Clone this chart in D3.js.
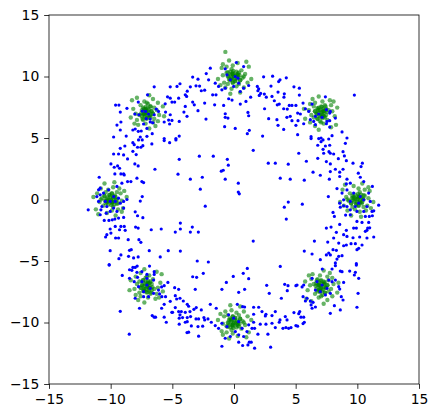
<!DOCTYPE html>
<html><head><meta charset="utf-8">
<script src="https://cdn.jsdelivr.net/npm/d3@7"></script>
<style>body{margin:0;background:#fff}svg{display:block}</style>
</head><body><svg id="c" width="437" height="418"></svg>
<script>
const xTicks = [-15,-10,-5,0,5,10,15];
const yTicks = [-15,-10,-5,0,5,10,15];

const greenE = [[10.1,0.2],[9.7,0.1],[10.4,-0.2],[9.9,-0.4],[10.6,0.3],[9.5,-0.3],[10.2,0.6],[9.4,0.5],[10.8,-0.5],[9.8,-0.8],[10.0,0.0],[10.3,0.4],[9.6,0.3],[10.5,-0.6],[9.3,-0.1],[10.9,0.1],[9.1,0.2],[10.1,0.9],[10.2,-1.0],[8.9,-0.5],[11.0,0.7],[9.7,1.1],[10.7,-0.9],[9.2,-0.9],[11.3,-0.2],[8.8,0.8],[10.4,1.3],[9.5,-1.3],[10.2,-0.2],[9.8,0.4],[10.5,0.0],[9.6,-0.6],[10.6,0.8],[9.2,0.0],[10.1,-0.5],[11.1,-0.7],[9.0,1.2],[10.3,-1.4],[8.6,-0.2],[10.9,1.0],
[10.05,0.1],[9.85,0.05],[10.2,-0.1],[9.95,-0.2],[10.3,0.15],[9.75,-0.15],[10.1,0.3],[9.7,0.25],[10.35,-0.3],[9.9,-0.35],[10.15,0.2],[9.8,0.15],[10.25,-0.25],[9.65,-0.05],[10.45,0.05],[9.55,0.1],[10.05,0.45],[10.1,-0.5],[9.5,-0.3],[10.5,0.35]];
const greenNE = [[7.27,7.17],[7.17,6.77],[6.87,7.47],[6.67,6.97],[7.37,7.67],[6.77,6.57],[7.67,7.27],[7.57,6.47],[6.57,7.87],[6.27,6.87],[7.07,7.07],[7.47,7.37],[7.37,6.67],[6.47,7.57],[6.97,6.37],[7.17,7.97],[7.27,6.17],[7.97,7.17],[6.07,7.27],[6.57,5.97],[7.77,8.07],[8.17,6.77],[6.17,7.77],[6.17,6.27],[6.87,8.37],[7.87,5.87],[8.37,7.47],[5.77,6.57],[6.87,7.27],[7.47,6.87],[7.07,7.57],[6.47,6.67],[7.87,7.67],[7.07,6.27],[6.57,7.17],[6.37,8.17],[8.27,6.07],[5.67,7.37],[6.87,5.67],[8.07,7.97],
[7.17,7.12],[7.12,6.92],[6.97,7.27],[6.87,7.02],[7.22,7.37],[6.92,6.82],[7.37,7.17],[7.32,6.77],[6.77,7.42],[6.72,6.97],[7.27,7.22],[7.22,6.87],[6.82,7.32],[7.02,6.72],[7.12,7.52],[7.17,6.62],[7.52,7.12],[6.57,7.17],[6.77,6.57],[7.42,7.57]];
const greenN = [[-0.1,10.2],[0.3,10.1],[-0.4,9.8],[0.1,9.6],[-0.6,10.3],[0.5,9.7],[-0.2,10.6],[0.6,10.5],[-0.8,9.5],[0.2,9.2],[0,10],[-0.3,10.4],[0.4,10.3],[-0.5,9.4],[0.7,9.9],[-0.9,10.1],[0.9,10.2],[-0.1,10.9],[-0.2,9.0],[1.1,9.5],[-1.0,10.7],[0.3,11.1],[-0.7,9.1],[0.8,9.1],[-1.3,9.8],[1.2,10.8],[-0.4,11.3],[0.5,8.7],[-0.2,9.8],[0.2,10.4],[-0.5,10.0],[0.4,9.4],[-0.6,10.8],[0.8,10.0],[-0.1,9.5],[-1.1,9.3],[1.0,11.2],[-0.3,8.6],[1.4,9.8],[-0.9,11.0],[-0.7,12.0],
[-0.05,10.1],[0.15,10.05],[-0.2,9.9],[0.05,9.8],[-0.3,10.15],[0.25,9.85],[-0.1,10.3],[0.3,10.25],[-0.35,9.7],[0.1,9.65],[-0.15,10.2],[0.2,10.15],[-0.25,9.75],[0.35,9.95],[-0.45,10.05],[0.45,10.1],[-0.05,10.45],[-0.1,9.5],[0.5,9.7],[-0.5,10.35]];
const greenNW = [[-7.27,6.97],[-7.17,7.37],[-6.87,6.67],[-6.67,7.17],[-7.37,6.47],[-6.77,7.57],[-7.67,6.87],[-7.57,7.67],[-6.57,6.27],[-6.27,7.27],[-7.07,7.07],[-7.47,6.77],[-7.37,7.47],[-6.47,6.57],[-6.97,7.77],[-7.17,6.17],[-7.27,7.97],[-7.97,6.97],[-6.07,6.87],[-6.57,8.17],[-7.77,6.07],[-8.17,7.37],[-6.17,6.37],[-6.17,7.87],[-6.87,5.77],[-7.87,8.27],[-8.37,6.67],[-5.77,7.57],[-6.87,6.87],[-7.47,7.27],[-7.07,6.57],[-6.47,7.47],[-7.87,6.47],[-7.07,7.87],[-6.57,6.97],[-6.37,5.97],[-8.27,8.07],[-5.67,6.77],[-6.87,8.47],[-8.07,6.17],
[-7.17,7.02],[-7.12,7.22],[-6.97,6.87],[-6.87,7.12],[-7.22,6.77],[-6.92,7.32],[-7.37,6.97],[-7.32,7.37],[-6.77,6.72],[-6.72,7.17],[-7.27,6.92],[-7.22,7.27],[-6.82,6.82],[-7.02,7.42],[-7.12,6.62],[-7.17,7.52],[-7.52,7.02],[-6.57,6.97],[-6.77,7.57],[-7.42,6.57]];
const greenW = [[-9.9,-0.2],[-10.3,-0.1],[-9.6,0.2],[-10.1,0.4],[-9.4,-0.3],[-10.5,0.3],[-9.8,-0.6],[-10.6,-0.5],[-9.2,0.5],[-10.2,0.8],[-10,0],[-9.7,-0.4],[-10.4,-0.3],[-9.5,0.6],[-10.7,0.1],[-9.1,-0.1],[-10.9,-0.2],[-9.9,-0.9],[-9.8,1.0],[-11.1,0.5],[-9.0,-0.7],[-10.3,-1.1],[-9.3,0.9],[-10.8,0.9],[-8.7,0.2],[-11.2,-0.8],[-9.6,-1.3],[-10.5,1.3],[-9.8,0.2],[-10.2,-0.4],[-9.5,0],[-10.4,0.6],[-9.4,-0.8],[-10.8,0],[-9.9,0.5],[-8.9,0.7],[-11.0,-1.2],[-9.7,1.4],[-11.4,0.2],[-9.1,-1.0],
[-9.95,-0.1],[-10.15,-0.05],[-9.8,0.1],[-10.05,0.2],[-9.7,-0.15],[-10.25,0.15],[-9.9,-0.3],[-10.3,-0.25],[-9.65,0.3],[-10.1,0.35],[-9.85,-0.2],[-10.2,-0.15],[-9.75,0.25],[-10.35,0.05],[-9.55,-0.05],[-10.45,-0.1],[-9.95,-0.45],[-9.9,0.5],[-10.5,0.3],[-9.5,-0.35]];
const greenSW = [[-6.87,-7.17],[-6.97,-6.77],[-7.27,-7.47],[-7.47,-6.97],[-6.77,-7.67],[-7.37,-6.57],[-6.47,-7.27],[-6.57,-6.47],[-7.57,-7.87],[-7.87,-6.87],[-7.07,-7.07],[-6.67,-7.37],[-6.77,-6.67],[-7.67,-7.57],[-7.17,-6.37],[-6.97,-7.97],[-6.87,-6.17],[-6.17,-7.17],[-8.07,-7.27],[-7.57,-5.97],[-6.37,-8.07],[-5.97,-6.77],[-7.97,-7.77],[-7.97,-6.27],[-7.27,-8.37],[-6.27,-5.87],[-5.77,-7.47],[-8.37,-6.57],[-7.27,-7.27],[-6.67,-6.87],[-7.07,-7.57],[-7.67,-6.67],[-6.27,-7.67],[-7.07,-6.27],[-7.57,-7.17],[-7.77,-8.17],[-5.87,-6.07],[-8.47,-7.37],[-7.27,-5.67],[-6.07,-7.97],
[-6.97,-7.12],[-7.02,-6.92],[-7.17,-7.27],[-7.27,-7.02],[-6.92,-7.37],[-7.22,-6.82],[-6.77,-7.17],[-6.82,-6.77],[-7.37,-7.42],[-7.42,-6.97],[-6.87,-7.22],[-6.92,-6.87],[-7.32,-7.32],[-7.12,-6.72],[-7.02,-7.52],[-6.97,-6.62],[-6.62,-7.12],[-7.57,-7.17],[-7.37,-6.57],[-6.72,-7.57]];
const greenS = [[-0.1,-10.2],[0.3,-10.1],[-0.4,-9.8],[0.1,-9.6],[-0.6,-10.3],[0.5,-9.7],[-0.2,-10.6],[0.6,-10.5],[-0.8,-9.5],[0.2,-9.2],[0,-10],[-0.3,-10.4],[0.4,-10.3],[-0.5,-9.4],[0.7,-9.9],[-0.9,-10.1],[0.9,-10.2],[-0.1,-10.9],[-0.2,-9.0],[1.1,-9.5],[-1.0,-10.7],[0.3,-11.1],[-0.7,-9.1],[0.8,-9.1],[-1.3,-9.8],[1.2,-10.8],[-0.4,-11.3],[0.5,-8.7],[-0.2,-9.8],[0.2,-10.4],[-0.5,-10],[0.4,-9.4],[-0.6,-10.8],[0.8,-10],[-0.1,-9.5],[-1.1,-9.3],[1.0,-11.2],[-0.3,-8.6],[1.4,-9.8],[-0.9,-11.0],
[-0.05,-10.1],[0.15,-10.05],[-0.2,-9.9],[0.05,-9.8],[-0.3,-10.15],[0.25,-9.85],[-0.1,-10.3],[0.3,-10.25],[-0.35,-9.7],[0.1,-9.65],[-0.15,-10.2],[0.2,-10.15],[-0.25,-9.75],[0.35,-9.95],[-0.45,-10.05],[0.45,-10.1],[-0.05,-10.45],[-0.1,-9.5],[0.5,-9.7],[-0.5,-10.35]];
const greenSE = [[6.87,-6.97],[6.97,-7.37],[7.27,-6.67],[7.47,-7.17],[6.77,-6.47],[7.37,-7.57],[6.47,-6.87],[6.57,-7.67],[7.57,-6.27],[7.87,-7.27],[7.07,-7.07],[6.67,-6.77],[6.77,-7.47],[7.67,-6.57],[7.17,-7.77],[6.97,-6.17],[6.87,-7.97],[6.17,-6.97],[8.07,-6.87],[7.57,-8.17],[6.37,-6.07],[5.97,-7.37],[7.97,-6.37],[7.97,-7.87],[7.27,-5.77],[6.27,-8.27],[5.77,-6.67],[8.37,-7.57],[7.27,-6.87],[6.67,-7.27],[7.07,-6.57],[7.67,-7.47],[6.27,-6.47],[7.07,-7.87],[7.57,-6.97],[7.77,-5.97],[5.87,-8.07],[8.47,-6.77],[7.27,-8.47],[6.07,-6.17],
[6.97,-7.02],[7.02,-7.22],[7.17,-6.87],[7.27,-7.12],[6.92,-6.77],[7.22,-7.32],[6.77,-6.97],[6.82,-7.37],[7.37,-6.72],[7.42,-7.17],[6.87,-6.92],[6.92,-7.27],[7.32,-6.82],[7.12,-7.42],[7.02,-6.62],[6.97,-7.52],[6.62,-7.02],[7.57,-6.97],[7.37,-7.57],[6.72,-6.57]];

const bluePoints = [
[-6.47,9.16],[-5.17,9.16],[-9.60,7.68],[-9.33,7.68],[-8.68,7.41],[-9.22,7.11],[-5.58,7.78],[-5.39,8.35],[-5.17,8.24],[-5.55,7.11],[-5.17,6.89],[-5.30,6.46],[-5.66,6.30],[-5.22,6.14],[-9.49,6.05],[-9.17,6.30],[-9.22,5.65],[-8.74,5.16],[-8.20,5.65],[-8.01,5.73],[-7.76,5.54],[-7.52,5.57],[-7.06,5.78],[-6.63,5.35],[-7.60,5.08],[-7.06,5.14],[-9.76,5.08],[-5.66,4.95],[-7.76,7.92],[-7.01,8.51],
[-6.30,7.35],[-6.47,6.89],[-6.12,7.16],[-7.17,7.16],[-7.44,7.19],[-7.12,6.57],[-6.79,6.54],[-6.79,6.30],[-7.33,6.14],[-6.93,6.95],[-6.58,6.24],[-7.71,6.89],[-8.04,6.95],
[-1.92,10.68],[-2.25,10.24],[-3.35,9.95],[-2.92,9.78],[-2.06,9.73],[-4.62,9.19],[-4.38,9.41],[-3.08,9.24],[-2.79,9.22],[-3.54,9.16],[-2.38,8.89],[-2.65,8.84],[-3.79,8.81],[-1.73,8.51],[-1.46,8.51],[-3.95,8.51],[-3.84,8.38],[-4.49,8.24],[-5.03,7.92],[-4.81,7.92],[-3.35,7.92],[-3.22,7.70],[-2.38,7.84],[-1.57,7.70],[-0.84,7.65],[-3.95,7.57],[-2.92,7.22],[-4.06,7.11],[-3.81,6.76],[-4.44,6.35],[-5.03,6.43],[-2.27,6.54],[-0.71,6.97],[-0.71,6.68],[-0.49,6.62],[-0.76,5.92],[0.10,5.78],[1.13,7.08],[1.19,6.81],[1.24,5.62],[1.08,5.35],[2.32,5.16],[-4.44,5.16],[-4.71,4.95],[0.51,7.76],[0.97,7.97],[1.35,8.32],[-0.16,8.08],[-0.43,8.19],
[1.89,9.19],[2.0,9.0],[2.40,9.97],[3.13,10.03],[3.62,9.59],[3.73,9.73],[4.24,9.89],[4.86,9.16],[3.00,9.22],[1.94,8.84],[2.16,8.62],[2.05,8.46],[2.46,8.57],[2.62,8.32],[3.08,8.38],[3.57,8.73],[4.08,8.59],[4.05,8.32],[3.27,8.03],[3.67,7.76],[3.51,7.70],[4.48,7.65],[4.70,7.65],[5.02,7.65],[4.03,7.38],[4.32,7.35],[2.48,7.38],[2.81,6.57],[3.48,6.49],[4.29,6.68],[4.56,6.76],[4.70,6.41],[5.02,6.03],[4.03,5.70],[3.57,6.03],
[-0.71,10.62],[0.10,10.0],[0.19,11.14],[-0.57,10.14],[-0.30,9.73],[0.38,9.46],[-0.98,8.92],[-1.25,9.19],[-0.71,9.05],[-0.03,9.19],[0.51,8.78],[0.78,9.05],[1.19,9.27],[0.78,10.81],[0.32,9.86],[-1.52,9.46],
[5.30,9.05],[5.30,8.49],[9.76,8.49],[5.60,7.84],[5.79,7.38],[6.06,7.16],[5.16,7.03],[5.38,6.95],[6.33,7.76],[7.41,8.35],[5.19,6.41],[5.65,6.16],[6.19,6.49],[6.46,6.35],[6.60,6.08],[7.54,6.35],[7.76,6.41],[7.49,6.16],[7.76,5.89],[8.22,6.62],[8.76,5.49],[7.95,5.19],[9.16,5.0],[5.16,5.27],[6.25,5.11],[6.25,4.95],[6.87,4.95],[7.06,5.0],[7.68,4.92],
[6.87,6.95],[7.49,7.30],[7.81,7.16],[7.14,6.68],[6.60,6.76],[7.76,7.03],
[-9.22,4.16],[-8.85,4.35],[-9.36,3.70],[-9.76,3.70],[-8.95,3.62],[-8.63,3.30],[-8.20,4.62],[-8.09,4.46],[-7.82,4.25],[-7.55,4.25],[-7.39,4.38],[-8.20,3.92],[-7.93,3.65],[-7.74,4.84],[-7.44,4.84],[-6.66,4.52],[-5.66,4.79],[-5.22,4.62],[-9.98,2.89],[-9.71,2.62],[-9.44,2.73],[-9.28,2.54],[-9.17,2.08],[-8.95,2.08],[-9.66,2.08],[-8.90,2.00],[-8.04,2.89],[-7.77,2.73],[-6.41,2.46],[-7.87,1.73],[-7.47,1.46],[-7.33,1.38],[-10.93,1.81],[-8.36,1.46],[-8.63,1.46],[-10.85,0.92],[-10.98,0.79],[-7.44,0.24],[-7.60,-0.13],[-11.82,-0.84],[-10.85,-1.24],[-10.52,-1.70],[-10.14,-1.70],[-9.87,-1.65],[-9.66,-1.59],[-9.36,-1.51],[-8.95,-1.46],[-8.01,-1.00],[-7.82,-1.32],[-7.39,-1.48],[-9.63,-2.19],[-9.17,-2.19],[-8.90,-2.19],[-9.28,-2.46],[-8.82,-2.51],[-7.98,-2.24],[-7.77,-2.32],[-10.04,-2.40],[-9.98,-2.73],[-10.31,-2.86],[-10.41,-3.05],[-9.60,-3.13],[-9.36,-3.13],[-8.58,-3.27],[-7.71,-3.27],[-7.55,-3.48],[-6.71,-2.46],[-5.90,-2.40],[-6.87,-4.16],[-5.98,-4.67],[-5.33,-4.16],[-10.04,-4.16],[-9.33,-4.81],[-9.17,-4.51],[-8.55,-4.62],[-8.47,-4.13],[-8.33,-4.08],[-8.14,-4.75],[-7.77,-4.67],[-10.12,-5.30],
[-11.12,0.24],[-10.85,0.38],[-10.44,-0.16],[-10.04,-0.16],[-9.63,-0.16],[-9.76,0.24],[-9.36,0.11],[-9.22,-0.30],[-8.95,-0.16],[-8.68,0.0],[-10.31,-0.57],[-10.71,-0.57],[-9.76,-0.70],[-9.49,-0.97],[-8.95,-0.70],[-10.58,0.52],[-10.17,0.79],[-9.49,1.06],[-10.98,-0.16],[-9.09,1.33],[-10.04,-0.97],[-10.36,-1.11],[-10.79,-0.84],
[-4.71,4.84],[1.56,4.00],[-4.44,3.27],[-2.81,3.52],[-1.68,3.52],[-0.54,3.27],[-0.46,2.79],[-1.03,2.30],[-0.87,2.38],[2.78,2.95],[3.35,2.95],[4.40,2.87],[-4.54,2.06],[-3.54,1.65],[-2.57,1.81],[-0.71,1.65],[0.35,1.33],[3.75,1.73],[4.56,1.65],[-2.73,0.84],[0.35,0.60],[0.43,0.46],[4.40,-0.21],[4.08,-0.62],[-2.33,-0.54],[4.24,-1.59],[-4.35,-1.92],[-4.35,-2.40],[-4.76,-2.65],[-3.38,-2.24],[-3.54,-2.65],[-2.89,-2.65],[1.56,-3.38],[-4.35,-4.19],[-2.98,-5.0],[-2.08,-5.08],
[6.79,4.41],[7.06,4.70],[7.22,4.84],[7.41,4.35],[7.76,4.41],[9.03,4.57],[5.25,3.76],[7.22,4.08],[7.27,3.76],[7.70,3.89],[7.81,3.76],[8.08,3.70],[8.84,3.89],[8.95,3.54],[6.79,3.35],[7.49,3.08],[7.81,2.89],[8.46,3.32],[9.11,3.16],[5.87,3.11],[9.65,2.95],[10.30,2.68],[10.41,2.95],[8.22,2.46],[8.84,2.46],[7.81,2.27],[8.57,2.22],[6.41,2.22],[7.0,1.97],[8.57,1.87],[10.08,2.14],[9.16,1.65],[7.73,1.65],[5.70,1.57],[10.24,1.81],[9.43,1.33],[9.11,1.27],[10.52,1.46],[11.22,1.06],[8.35,0.89],[8.76,0.52],[7.65,0.24],[5.54,-0.38],[8.57,-0.30],[8.62,-0.62],[8.89,-0.51],[11.73,-0.46],[11.33,-0.92],[11.19,-0.97],[8.03,-1.05],[8.14,-1.38],[9.05,-1.27],[9.43,-1.24],[10.65,-1.38],[10.97,-1.38],[11.22,-1.32],[9.97,-1.78],[10.38,-1.86],[10.92,-1.86],[8.57,-2.03],[9.70,-2.32],[9.92,-2.32],[10.84,-2.32],[11.0,-2.30],[7.49,-2.32],[7.87,-2.24],[8.30,-2.67],[9.11,-2.51],[10.65,-2.59],[10.78,-2.51],[8.89,-2.86],[9.16,-3.0],[9.65,-3.11],[10.19,-3.05],[10.78,-3.13],[11.33,-3.05],[6.52,-3.38],[7.60,-3.46],[8.08,-3.13],[8.49,-3.54],[8.89,-3.76],[9.11,-3.70],[9.49,-3.59],[9.84,-3.59],[10.11,-3.97],[10.38,-3.70],[9.97,-4.08],[5.70,-4.19],[6.33,-4.43],[7.0,-4.89],[7.49,-4.51],[7.68,-4.35],[8.03,-4.08],[8.30,-4.13],[7.81,-4.51],[8.49,-4.62],[8.76,-4.57],[8.35,-4.84],[8.22,-5.16],[9.92,-5.22],
[9.16,0.78],[9.70,0.52],[10.24,0.24],[10.52,-0.03],[10.11,-0.30],[9.84,-0.57],[9.43,-0.16],[10.78,-0.57],[10.52,-0.97],[9.97,-0.97],[9.43,-0.84],[9.16,-0.57],[8.89,-0.03],[11.05,-0.16],[10.92,0.52],
[-10.12,-5.33],[-8.47,-5.71],[-8.28,-5.76],[-8.20,-5.52],[-8.01,-5.52],[-7.85,-5.41],[-6.85,-5.41],[-9.06,-6.17],[-8.47,-6.41],[-7.87,-5.92],[-7.47,-5.87],[-7.06,-6.09],[-6.47,-5.87],[-6.47,-6.09],[-5.36,-6.74],[-7.82,-6.33],[-8.09,-6.68],[-5.66,-7.01],[-5.87,-7.11],[-5.85,-7.90],[-6.03,-7.68],[-5.55,-7.90],[-5.17,-8.28],[-5.66,-8.52],[-5.87,-8.84],[-8.01,-8.03],[-7.66,-8.84],[-9.22,-9.09],[-6.63,-9.44],[-6.47,-9.57],[-6.36,-9.57],[-5.66,-9.57],[-5.49,-9.98],[-5.04,-9.17],[-8.49,-10.95],
[-7.47,-6.68],[-7.06,-6.95],[-6.79,-7.22],[-7.33,-7.49],[-6.93,-7.90],[-6.52,-7.63],[-6.12,-7.36],[-7.74,-7.09],[-7.06,-6.41],[-6.52,-6.55],[-7.33,-7.90],
[-2.49,-6.0],[-3.35,-6.28],[-3.03,-6.33],[0.75,-6.0],[1.08,-5.60],[1.19,-6.44],[-0.06,-6.25],[-0.62,-6.74],[3.75,-5.44],[-4.81,-7.17],[-4.49,-7.30],[-3.14,-7.30],[-0.98,-7.30],[0.38,-7.55],[0.86,-7.30],[2.65,-6.98],[2.86,-7.63],[4.11,-6.90],[4.38,-7.01],[4.32,-7.41],[5.02,-7.01],[-4.76,-7.82],[-4.65,-8.09],[-4.38,-8.03],[-4.11,-8.25],[-3.79,-8.52],[-3.68,-8.68],[-4.76,-8.79],[-4.49,-9.11],[-4.27,-9.11],[-3.25,-8.93],[-3.06,-8.79],[-2.65,-8.98],[-4.98,-9.17],[-3.95,-9.17],[-3.57,-9.11],[-4.38,-9.38],[-4.44,-9.65],[-4.17,-9.60],[-3.79,-9.60],[-3.52,-9.52],[-3.08,-9.71],[-2.87,-9.71],[-2.44,-9.60],[-2.11,-9.71],[-3.95,-9.98],[-3.79,-9.93],[-3.46,-10.28],[-2.92,-10.33],[-2.38,-9.79],[-4.44,-10.14],[-3.81,-10.82],[-3.68,-10.79],[-2.87,-11.11],[-2.54,-10.30],[-1.92,-8.52],[-1.44,-8.84],[-1.84,-9.98],[-1.52,-10.25],[-0.98,-11.93],[0.27,-8.52],[0.70,-8.71],[0.86,-8.74],[1.59,-8.76],[2.0,-8.76],[1.59,-9.33],[2.27,-9.11],[2.59,-9.33],[2.54,-9.47],[1.59,-9.98],[2.13,-10.14],[1.46,-10.47],[1.67,-10.47],[1.94,-10.95],[1.24,-11.60],[1.40,-11.60],[1.13,-11.82],[0.70,-11.87],[1.67,-12.09],[0.38,-11.60],[2.97,-12.01],[2.75,-10.95],[3.08,-9.44],[3.35,-9.11],[3.67,-9.98],[3.73,-9.79],[3.08,-10.06],[3.35,-10.41],[3.97,-10.47],[4.21,-10.41],[4.43,-10.47],[4.62,-10.41],[4.16,-9.52],[4.30,-9.79],[4.86,-9.19],[5.02,-10.25],[3.84,-8.03],[2.59,-10.14],
[-0.44,-9.38],[-0.03,-9.65],[0.38,-9.93],[0.65,-10.47],[0.11,-10.74],[-0.57,-10.33],[-0.98,-10.06],[-0.30,-11.14],[0.78,-11.14],[0.38,-11.0],[-1.25,-10.47],[1.19,-10.19],[-0.71,-11.28],[1.05,-10.74],
[8.22,-5.38],[8.62,-5.82],[8.76,-5.87],[9.38,-5.82],[9.84,-5.92],[9.76,-6.14],[10.11,-6.41],[9.92,-5.33],[7.95,-5.65],[7.16,-5.65],[8.22,-6.55],[8.89,-6.74],[8.49,-7.09],[8.57,-7.28],[10.06,-7.63],[8.70,-7.90],[8.84,-8.17],[8.14,-8.63],[8.62,-8.98],[7.81,-9.25],[9.97,-8.76],[6.33,-8.84],[6.60,-8.74],[5.65,-6.95],[5.52,-7.11],[5.11,-6.95],[5.60,-7.90],[5.92,-8.03],[6.19,-8.25],[6.41,-8.36],[6.25,-8.57],[5.79,-8.25],[5.33,-9.11],[5.25,-9.28],[5.43,-9.57],[5.65,-9.57],[5.70,-9.98],[5.60,-10.09],[5.16,-10.30],
[6.33,-6.41],[6.73,-6.68],[7.14,-6.95],[7.54,-7.22],[7.00,-7.49],[7.81,-7.63],[7.41,-7.76],[7.95,-6.68],[6.60,-7.36],[7.68,-6.55]
];

const svg = d3.select('#c');
const L = 49, R = 419, T = 15, B = 384;
const x = d3.scaleLinear().domain([-15, 15]).range([L, R]);
const y = d3.scaleLinear().domain([-15, 15]).range([B, T]);

svg.append('defs').append('clipPath').attr('id','clip')
  .append('rect').attr('x',L).attr('y',T).attr('width',R-L).attr('height',B-T);
const plot = svg.append('g').attr('clip-path','url(#clip)');

const greens = [greenE, greenNE, greenN, greenNW, greenW, greenSW, greenS, greenSE];
greens.forEach(g => {
  plot.append('g').selectAll('circle').data(g).join('circle')
    .attr('cx', d => x(d[0])).attr('cy', d => y(d[1])).attr('r', 2.2)
    .attr('fill', '#008000').attr('fill-opacity', 0.6);
});
plot.append('g').selectAll('circle').data(bluePoints).join('circle')
  .attr('cx', d => x(d[0])).attr('cy', d => y(d[1])).attr('r', 1.6)
  .attr('fill', '#0000ff');

const tl = 4.86, tp = 4.86;
const fmt = d3.format('d');
const xa = svg.append('g').attr('transform', `translate(0,${B})`)
  .call(d3.axisBottom(x).tickValues(xTicks).tickSize(tl).tickPadding(tp).tickFormat(d => fmt(d).replace('-', '\u2212')));
const ya = svg.append('g').attr('transform', `translate(${L},0)`)
  .call(d3.axisLeft(y).tickValues(yTicks).tickSize(tl).tickPadding(tp).tickFormat(d => fmt(d).replace('-', '\u2212')));
[xa, ya].forEach(a => {
  a.select('.domain').remove();
  a.selectAll('line').attr('stroke', '#000').attr('stroke-width', 0.8);
  a.selectAll('text').attr('font-family', 'DejaVu Sans').attr('font-size', 13.9).attr('fill', '#000');
});
svg.append('rect').attr('x', L).attr('y', T).attr('width', R-L).attr('height', B-T)
  .attr('fill', 'none').attr('stroke', '#000').attr('stroke-width', 0.8);
</script></body></html>
